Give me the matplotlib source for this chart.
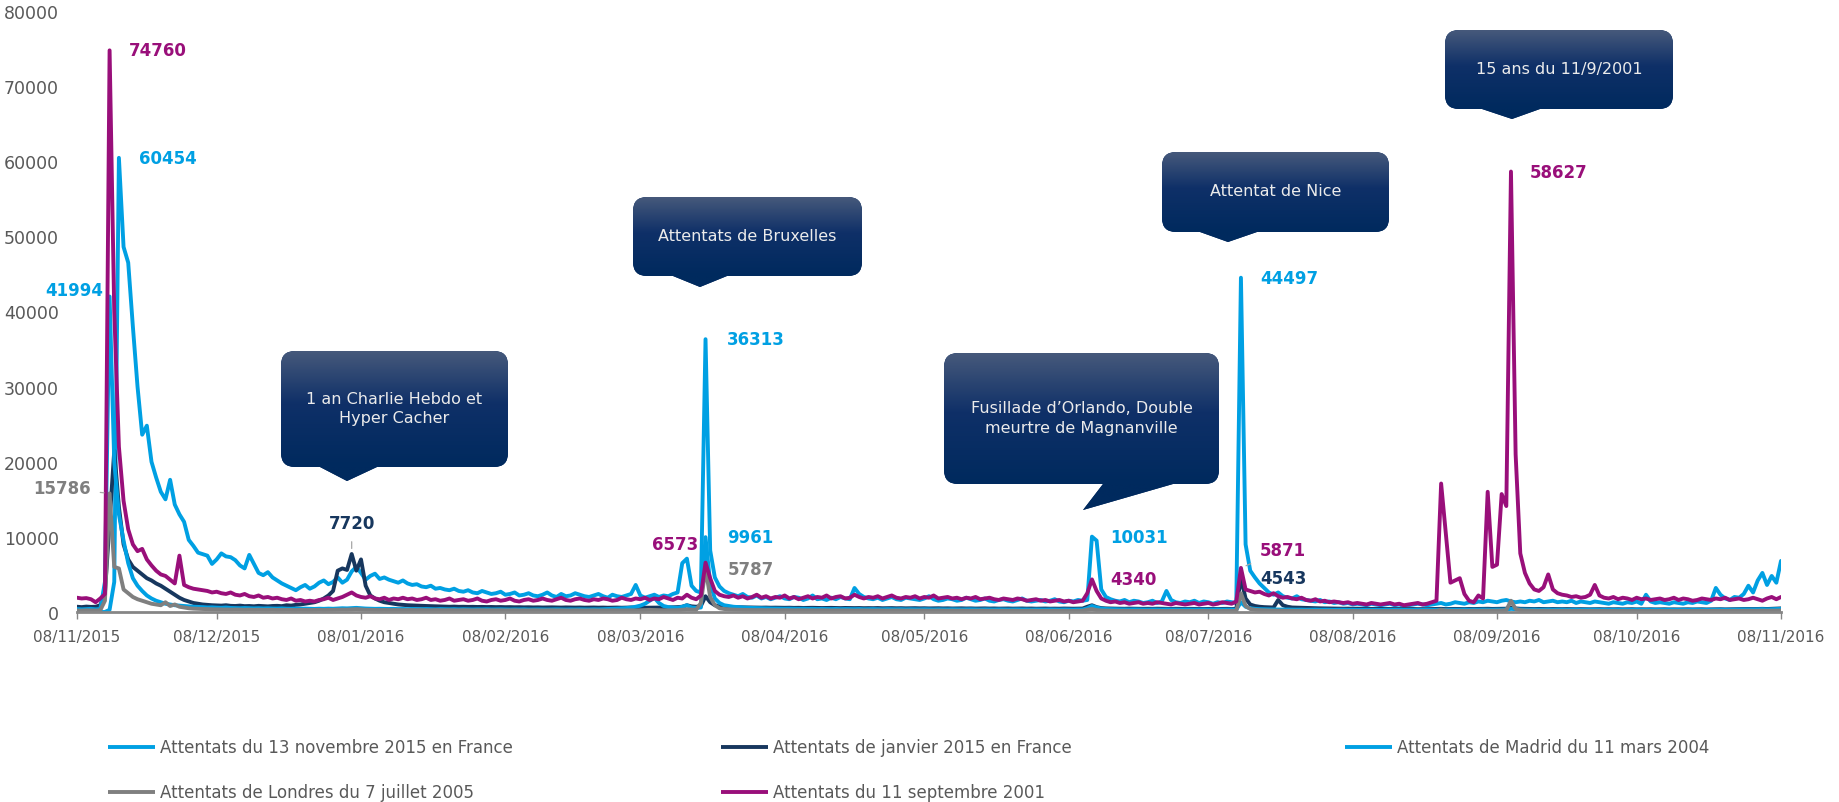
import matplotlib
matplotlib.use("Agg")
import matplotlib.pyplot as plt
import matplotlib.dates as mdates
import numpy as np
import pandas as pd
from matplotlib.path import Path
from matplotlib.patches import PathPatch
from matplotlib.colors import LinearSegmentedColormap

# --- DATA: daily values from 08/11/2015 to 08/11/2016 ---
start_date = "2015-11-08"

nov13 = [
    0, 0, 0, 0, 0, 0, 0, 300, 4000, 60454,
    48600, 46500, 38000, 30000, 23600, 24800, 20000, 17900, 16000, 15000,
    17600, 14300, 13000, 12000, 9600, 8800, 7900, 7700, 7500, 6400,
    7000, 7800, 7400, 7300, 6900, 6200, 5800, 7600, 6400, 5200,
    4900, 5300, 4600, 4200, 3800, 3500, 3200, 2900, 3300, 3600,
    3100, 3400, 3900, 4200, 3700, 4000, 4600, 3900, 4300, 5400,
    6000, 5200, 4300, 4800, 5100, 4400, 4600, 4300, 4100, 3900,
    4200, 3800, 3600, 3700, 3400, 3300, 3500, 3100, 3200, 3000,
    2900, 3100, 2800, 2700, 2900, 2600, 2500, 2800, 2600, 2400,
    2500, 2700, 2300, 2400, 2600, 2200, 2300, 2500, 2200, 2100,
    2300, 2600, 2200, 2000, 2400, 2100, 2200, 2500, 2300, 2100,
    2000, 2200, 2400, 2100, 1900, 2300, 2100, 2000, 2200, 2400,
    3600, 2200, 1900, 2100, 2300, 2000, 2200, 2100, 2400, 2600,
    6500, 7100, 3500, 2800, 2600, 36313, 8200, 4600, 3400, 2800,
    2500, 2300, 2100, 2400, 2000, 1900, 2200, 1800, 2000, 1700,
    1900, 2100, 1800, 1700, 2000, 1900, 1600, 1800, 2200, 1700,
    1800, 1600, 1900, 1700, 2000, 1800, 1700, 3200, 2400, 2000,
    1800, 1700, 1900, 1600, 1800, 2000, 1700, 1600, 1900, 1800,
    1700, 1600, 1800, 2100, 1700, 1500, 1600, 1800, 1700, 1500,
    1600, 1900, 1700, 1500, 1600, 1800, 1500, 1400, 1600, 1700,
    1500, 1400, 1600, 1800, 1500, 1400, 1500, 1600, 1400, 1500,
    1700, 1400, 1300, 1500, 1400, 1600, 1500, 1600, 10031, 9500,
    3000, 2000, 1700, 1500, 1400, 1600, 1300, 1500, 1400, 1200,
    1300, 1500, 1200, 1400, 2800, 1600, 1300, 1200, 1400, 1300,
    1500, 1200, 1400, 1300, 1100, 1300, 1200, 1400, 1300, 1200,
    44497, 9000, 5500, 4600, 3800, 3200, 2600, 2300, 2600, 2100,
    1900, 1800, 2100, 1700, 1600, 1500, 1400, 1600, 1300, 1400,
    1200, 1300, 1100, 1200, 1000, 1100, 1000, 900, 1100, 1000,
    900, 1000, 1100, 900, 1000, 800, 900, 1000, 1100, 1000,
    900, 1000, 1100, 1200, 1000, 1100, 1300, 1200, 1100, 1300,
    1200, 1400, 1300, 1500, 1400, 1300, 1500, 1600, 1400, 1300,
    1400, 1300, 1500, 1400, 1600, 1300, 1400, 1500, 1300, 1400,
    1300, 1500, 1200, 1400, 1300, 1200, 1400, 1300, 1200, 1100,
    1300, 1200, 1100, 1300, 1200, 1400, 1100, 2300, 1400, 1200,
    1300, 1200, 1100, 1300, 1200, 1100, 1300, 1200, 1400, 1300,
    1200, 1500, 3200, 2300, 1800, 1600, 2000, 1900, 2400, 3500,
    2600, 4200, 5200, 3600, 4800, 3900, 6800,
]

janvier = [
    700, 650, 720, 680, 700, 900, 2500, 12000, 21500, 14000,
    9000, 7000, 6000, 5500, 5000, 4500, 4200, 3800, 3500, 3100,
    2700, 2300, 1900, 1600, 1400, 1200, 1100, 1000, 950, 900,
    880, 850, 900, 820, 800, 850, 780, 800, 760, 820,
    780, 750, 800, 820, 780, 900, 850, 950, 1000, 1100,
    1200, 1300, 1500, 1800, 2200, 2800, 5500, 5800, 5600, 7720,
    5500, 7000, 3500, 2200, 1800, 1500, 1300, 1200, 1100, 1000,
    950, 900, 880, 850, 820, 800, 780, 760, 740, 720,
    700, 720, 690, 700, 680, 690, 670, 680, 660, 670,
    650, 660, 640, 650, 630, 640, 620, 630, 610, 620,
    600, 610, 620, 600, 590, 610, 600, 590, 600, 580,
    590, 600, 580, 590, 570, 580, 590, 570, 580, 600,
    580, 590, 570, 580, 600, 590, 580, 600, 620, 650,
    700, 900, 750, 700, 800, 2100, 1300, 900, 750, 700,
    650, 640, 620, 610, 600, 590, 600, 580, 590, 570,
    580, 570, 560, 570, 550, 560, 540, 550, 560, 540,
    530, 540, 550, 530, 520, 540, 530, 520, 530, 510,
    520, 510, 530, 500, 510, 520, 500, 510, 490, 500,
    510, 490, 500, 480, 490, 500, 480, 490, 470, 480,
    490, 470, 480, 460, 470, 480, 460, 470, 450, 460,
    470, 450, 460, 470, 450, 460, 440, 450, 460, 440,
    450, 440, 460, 450, 440, 450, 460, 700, 900, 650,
    520, 480, 460, 450, 440, 430, 450, 440, 430, 420,
    430, 420, 440, 430, 420, 410, 430, 420, 410, 420,
    410, 420, 400, 410, 420, 400, 410, 420, 400, 430,
    4543, 1800, 1000, 800, 700, 650, 620, 600, 1600, 900,
    700, 600, 580, 560, 540, 520, 500, 490, 480, 470,
    460, 450, 440, 450, 430, 440, 420, 430, 410, 420,
    410, 400, 410, 390, 400, 380, 390, 400, 380, 390,
    380, 390, 400, 420, 390, 400, 410, 400, 390, 410,
    400, 410, 420, 430, 410, 420, 430, 440, 600, 480,
    430, 420, 410, 400, 410, 400, 390, 400, 390, 380,
    390, 380, 370, 380, 370, 360, 370, 380, 360, 370,
    360, 370, 350, 360, 370, 350, 360, 350, 360, 340,
    350, 360, 340, 350, 340, 350, 360, 340, 350, 360,
    340, 350, 360, 370, 350, 360, 370, 380, 390, 400,
    390, 410, 420, 400, 430, 450, 480,
]

madrid = [
    400, 350, 380, 420, 360, 400, 4000, 41994, 20000, 13000,
    9500, 6500, 4500, 3500, 2800, 2200, 1800, 1500, 1300, 1100,
    1000, 900, 850, 800, 750, 700, 680, 650, 600, 620,
    580, 560, 600, 540, 520, 500, 530, 510, 480, 500,
    470, 490, 460, 450, 480, 440, 430, 460, 420, 450,
    430, 410, 440, 420, 450, 430, 460, 500, 480, 520,
    550, 500, 460, 440, 420, 430, 410, 400, 420, 390,
    400, 380, 410, 390, 370, 400, 380, 360, 390, 370,
    360, 380, 350, 370, 360, 340, 360, 350, 370, 340,
    350, 360, 340, 330, 350, 340, 360, 330, 340, 350,
    340, 330, 350, 360, 340, 330, 350, 340, 360, 350,
    340, 360, 350, 380, 400, 420, 450, 480, 520, 600,
    700, 850, 1100, 1500, 1900, 1200, 800, 650, 600, 550,
    700, 900, 600, 550, 600, 9961, 3800, 1800, 1200, 900,
    800, 700, 650, 600, 560, 540, 520, 500, 480, 470,
    460, 450, 440, 450, 430, 420, 440, 410, 420, 400,
    410, 400, 390, 410, 380, 400, 390, 380, 400, 370,
    380, 390, 370, 360, 380, 370, 360, 380, 350, 370,
    360, 350, 370, 360, 340, 360, 350, 340, 360, 350,
    340, 350, 360, 340, 330, 350, 340, 330, 350, 340,
    330, 340, 350, 330, 340, 320, 340, 330, 320, 340,
    330, 320, 340, 330, 320, 340, 330, 500, 800, 600,
    450, 400, 380, 360, 350, 340, 330, 350, 340, 330,
    320, 340, 330, 320, 340, 330, 320, 310, 330, 320,
    310, 330, 320, 310, 320, 330, 310, 320, 330, 310,
    1300, 700, 500, 420, 380, 360, 350, 340, 330, 320,
    330, 320, 310, 320, 300, 310, 320, 300, 310, 300,
    290, 300, 310, 290, 300, 280, 290, 300, 280, 290,
    280, 290, 300, 280, 290, 280, 270, 290, 280, 300,
    290, 280, 300, 310, 290, 300, 310, 300, 320, 310,
    320, 310, 330, 320, 310, 330, 320, 340, 420, 380,
    340, 330, 320, 330, 310, 320, 330, 310, 320, 310,
    300, 310, 320, 300, 310, 300, 320, 310, 300, 290,
    300, 310, 290, 300, 290, 310, 300, 290, 300, 310,
    290, 300, 310, 290, 300, 310, 290, 300, 310, 300,
    290, 300, 310, 320, 300, 310, 320, 330, 340, 350,
    340, 360, 380, 350, 370, 390, 420,
]

londres = [
    200, 180, 220, 200, 190, 230, 1500, 15786, 6000, 5800,
    3000, 2500, 2000, 1700, 1500, 1300, 1100, 1000, 900, 1300,
    800, 1000, 700, 600, 500, 450, 420, 400, 380, 360,
    350, 340, 330, 320, 330, 310, 300, 310, 290, 300,
    290, 280, 300, 270, 280, 290, 270, 260, 280, 270,
    260, 270, 280, 260, 270, 280, 300, 320, 310, 350,
    380, 340, 300, 280, 270, 260, 270, 250, 260, 250,
    240, 250, 260, 240, 250, 240, 230, 250, 240, 230,
    240, 230, 220, 240, 230, 220, 230, 240, 220, 230,
    220, 230, 210, 220, 230, 210, 220, 210, 230, 220,
    210, 220, 230, 210, 220, 210, 200, 220, 210, 200,
    210, 220, 200, 210, 200, 220, 210, 200, 210, 220,
    210, 230, 250, 280, 260, 240, 230, 220, 230, 240,
    300, 350, 320, 300, 1200, 5787, 2000, 900, 500, 400,
    350, 320, 300, 280, 270, 260, 250, 260, 240, 250,
    240, 230, 240, 230, 220, 230, 220, 210, 220, 210,
    220, 210, 200, 210, 200, 210, 200, 190, 200, 210,
    200, 190, 200, 190, 180, 190, 200, 190, 180, 190,
    180, 190, 180, 170, 180, 190, 180, 170, 180, 170,
    180, 170, 160, 170, 180, 170, 160, 170, 160, 170,
    160, 170, 160, 150, 160, 170, 160, 150, 160, 150,
    160, 150, 160, 150, 140, 150, 160, 300, 400, 250,
    200, 180, 170, 160, 150, 160, 150, 140, 150, 140,
    150, 140, 150, 140, 130, 140, 150, 140, 130, 140,
    130, 140, 150, 140, 130, 140, 130, 150, 140, 130,
    2500, 800, 400, 300, 250, 220, 200, 190, 180, 170,
    160, 170, 160, 150, 160, 150, 140, 150, 140, 150,
    140, 130, 140, 130, 140, 130, 120, 130, 140, 130,
    120, 130, 120, 130, 120, 130, 140, 130, 120, 130,
    140, 130, 150, 300, 200, 160, 150, 160, 150, 160,
    170, 160, 170, 180, 170, 180, 200, 250, 1500, 400,
    250, 200, 180, 170, 160, 170, 160, 150, 160, 150,
    160, 150, 140, 150, 140, 150, 140, 150, 140, 130,
    140, 130, 140, 130, 140, 130, 140, 130, 140, 130,
    140, 130, 140, 130, 140, 150, 140, 130, 140, 150,
    140, 150, 160, 150, 140, 150, 160, 150, 160, 170,
    160, 170, 180, 170, 180, 190, 200,
]

sept11 = [
    1900, 1800, 1850, 1700, 1300, 1800, 2400, 74760, 40000, 22000,
    14800, 11000, 9000, 8100, 8400, 7000, 6200, 5500, 5000, 4800,
    4300, 3800, 7500, 3600, 3300, 3100, 3000, 2900, 2800, 2600,
    2700, 2500, 2400, 2600, 2300, 2200, 2400, 2100, 2000, 2200,
    1900, 2000, 1800, 1900, 1700, 1600, 1800, 1500, 1600, 1400,
    1500, 1400, 1600, 1700, 1900, 1600, 1800, 2000, 2300, 2600,
    2200, 2000, 1900, 2100, 1800, 1700, 1900, 1600, 1800, 1700,
    1900, 1700, 1800, 1600, 1700, 1900, 1600, 1700, 1500, 1600,
    1800, 1500, 1600, 1700, 1500, 1600, 1800, 1500, 1400, 1600,
    1700, 1500, 1600, 1800, 1500, 1400, 1600, 1700, 1500, 1600,
    1800, 1600, 1500, 1700, 1900, 1600, 1500, 1700, 1800, 1600,
    1500, 1700, 1600, 1800, 1700, 1500, 1600, 1900, 1700, 1600,
    1800, 1700, 1900, 1600, 1800, 1700, 2000, 1800, 1600, 1900,
    1800, 2300, 1900, 1700, 2200, 6573, 4500, 2800, 2300, 2100,
    2000, 2200, 1900, 2100, 1800, 2000, 2300, 1900, 2100, 1800,
    2000, 1900, 2200, 1800, 2000, 1700, 1900, 2100, 1800, 2000,
    1900, 2200, 1800, 2000, 2100, 1800, 1900, 2300, 2000, 1800,
    2000, 1900, 2100, 1800, 2000, 2200, 1900, 1800, 2000, 1900,
    2100, 1800, 2000, 1900, 2200, 1800, 1900, 2000, 1800, 1900,
    1700, 1900, 1800, 2000, 1700, 1800, 1900, 1700, 1600, 1800,
    1700, 1600, 1800, 1700, 1500, 1600, 1700, 1500, 1600, 1400,
    1500, 1600, 1400, 1500, 1300, 1400, 1500, 2500, 4340, 2800,
    1800, 1500, 1300, 1400, 1200, 1300, 1100, 1200, 1300, 1100,
    1200, 1100, 1300, 1200, 1100, 1000, 1200, 1100, 1000, 1100,
    1200, 1000, 1100, 1200, 1000, 1100, 1300, 1200, 1100, 1400,
    5871, 3000, 2800, 2600, 2700, 2400, 2200, 2500, 2100, 1900,
    2000, 1800, 1700, 1900, 1600, 1500, 1700, 1400, 1500, 1300,
    1400, 1300, 1200, 1300, 1100, 1200, 1100, 1000, 1200, 1100,
    1000, 1100, 1200, 1000, 1100, 900, 1000, 1100, 1200, 1000,
    1100, 1300, 1500, 17100, 10500, 3900, 4200, 4500, 2400, 1500,
    1300, 2200, 1800, 16000, 6000, 6300, 15700, 14100, 58627, 21000,
    7800, 5200, 3800, 3000, 2800, 3300, 5000, 3000, 2500, 2300,
    2200, 2000, 2100, 1900, 2000, 2300, 3600, 2200, 1900, 1800,
    2000, 1700, 1900, 1800, 1600, 1900, 1700, 1800, 1600, 1700,
    1800, 1600, 1700, 1900, 1600, 1800, 1700, 1500, 1600, 1800,
    1700, 1600, 1800, 1700, 1900, 1600, 1700, 1800, 1600, 1700,
    1900, 1700, 1500, 1800, 2000, 1700, 2000,
]

names = [
    "Attentats du 13 novembre 2015 en France",
    "Attentats de janvier 2015 en France",
    "Attentats de Madrid du 11 mars 2004",
    "Attentats de Londres du 7 juillet 2005",
    "Attentats du 11 septembre 2001",
]
values = [nov13, janvier, madrid, londres, sept11]
colors = ["#00A0E3", "#17375E", "#00A0E3", "#7F7F7F", "#990F7A"]

# data labels: (series index, day index, dx px, dy px, ha, leader)
labels = [
    (4, 7, 19, 0, "left", False),
    (0, 9, 20, 0, "left", False),
    (2, 7, -6, 7, "right", False),
    (3, 7, -19, 5, "right", True),
    (1, 59, 0, 31, "center", True),
    (4, 135, -7, 19, "right", False),
    (0, 135, 21, 0, "left", False),
    (2, 135, 22, 0, "left", False),
    (3, 135, 22, 0, "left", False),
    (0, 218, 18, 0, "left", False),
    (4, 218, 18, 0, "left", False),
    (0, 250, 19, 0, "left", False),
    (4, 250, 19, 18, "left", True),
    (1, 250, 19, 0, "left", False),
    (4, 308, 19, 0, "left", False),
]

# callouts: text, box (left, top, right, bottom), pointer base (x0, x1), tip (x, y) in px
callouts = [
    ("1 an Charlie Hebdo et\nHyper Cacher", (281, 352, 508, 468), (320, 377), (347, 482)),
    ("Attentats de Bruxelles", (633, 198, 862, 277), (673, 727), (700, 288)),
    ("Fusillade d\u2019Orlando, Double\nmeurtre de Magnanville", (944, 354, 1219, 485), (1103, 1173), (1083, 511)),
    ("Attentat de Nice", (1162, 153, 1389, 233), (1200, 1257), (1228, 243)),
    ("15 ans du 11/9/2001", (1445, 31, 1673, 110), (1482, 1540), (1512, 120)),
]

W, H = 1839, 803
plt.rcParams["font.family"] = "DejaVu Sans"
fig = plt.figure(figsize=(W / 100, H / 100), dpi=100)
ax = fig.add_axes([77 / W, 1 - 613 / H, (1781 - 77) / W, (613 - 12) / H])

start = pd.Timestamp(start_date)
for vals, col in zip(values, colors):
    dates = start + pd.to_timedelta(np.arange(len(vals)), unit="D")
    ax.plot(dates, vals, color=col, lw=2.8, solid_joinstyle="round", solid_capstyle="round")

ax.set_xlim(start, start + pd.Timedelta(days=366))
ax.set_ylim(0, 80000)
ax.set_yticks(range(0, 80001, 10000))
ax.set_xticks(pd.date_range(start, periods=13, freq=pd.DateOffset(months=1)))
ax.xaxis.set_major_formatter(mdates.DateFormatter("%d/%m/%Y"))

for s in ["top", "right", "left"]:
    ax.spines[s].set_visible(False)
ax.spines["bottom"].set_color("#868686")
ax.spines["bottom"].set_linewidth(2)
ax.tick_params(axis="x", length=5, width=1, color="#868686", pad=7, labelsize=11, labelcolor="#595959")
ax.tick_params(axis="y", length=0, pad=13, labelsize=12.5, labelcolor="#595959")

for si, di, dx, dy, ha, leader in labels:
    v = values[si][di]
    d = start + pd.Timedelta(days=di)
    arrow = dict(arrowstyle="-", color="#A6A6A6", lw=0.9, shrinkA=5, shrinkB=4) if leader else None
    ax.annotate(f"{v}", xy=(d, v), xytext=(dx, dy), textcoords="offset pixels",
                ha=ha, va="center", color=colors[si], fontsize=12, fontweight="bold",
                arrowprops=arrow, zorder=6)

# overlay in pixel coordinates (y from top)
ov = fig.add_axes([0, 0, 1, 1], zorder=5)
ov.axis("off")

cmap = LinearSegmentedColormap.from_list("box", [(0, "#46597B"), (0.45, "#0F3068"), (1, "#002A5E")])
r = 14
for text, (l, t, rr, b), (b0, b1), (tx, ty) in callouts:
    verts = [
        (l + r, t), (rr - r, t), (rr, t), (rr, t + r),
        (rr, b - r), (rr, b), (rr - r, b),
        (b1, b), (tx, ty), (b0, b),
        (l + r, b), (l, b), (l, b - r),
        (l, t + r), (l, t), (l + r, t), (l + r, t),
    ]
    codes = [Path.MOVETO, Path.LINETO, Path.CURVE3, Path.CURVE3,
             Path.LINETO, Path.CURVE3, Path.CURVE3,
             Path.LINETO, Path.LINETO, Path.LINETO,
             Path.LINETO, Path.CURVE3, Path.CURVE3,
             Path.LINETO, Path.CURVE3, Path.CURVE3, Path.CLOSEPOLY]
    patch = PathPatch(Path(verts, codes), facecolor="#0B2D62", edgecolor="none", zorder=2)
    ov.add_patch(patch)
    grad = np.clip(np.linspace(0, (ty - t) / (b - t), 200), 0, 1)[:, None]
    im = ov.imshow(grad, cmap=cmap, vmin=0, vmax=1, extent=(l, rr, ty, t), origin="upper",
                   aspect="auto", interpolation="bilinear", zorder=2)
    im.set_clip_path(patch)
    ov.text((l + rr) / 2, (t + b) / 2 - 1, text, ha="center", va="center", color="#EBEBEB",
            fontsize=11.5, linespacing=1.4, zorder=3)

# legend
col_x = [108, 721, 1345]
row_y = [748, 793]
for i, (name, col) in enumerate(zip(names, colors)):
    x0 = col_x[i % 3]
    y0 = row_y[i // 3]
    ov.plot([x0, x0 + 47], [y0, y0], color=col, lw=2.8, solid_capstyle="butt")
    ov.text(x0 + 52, y0, name, ha="left", va="center", color="#595959", fontsize=12)

ov.set_xlim(0, W)
ov.set_ylim(H, 0)

fig.savefig("out.png", dpi=100)
